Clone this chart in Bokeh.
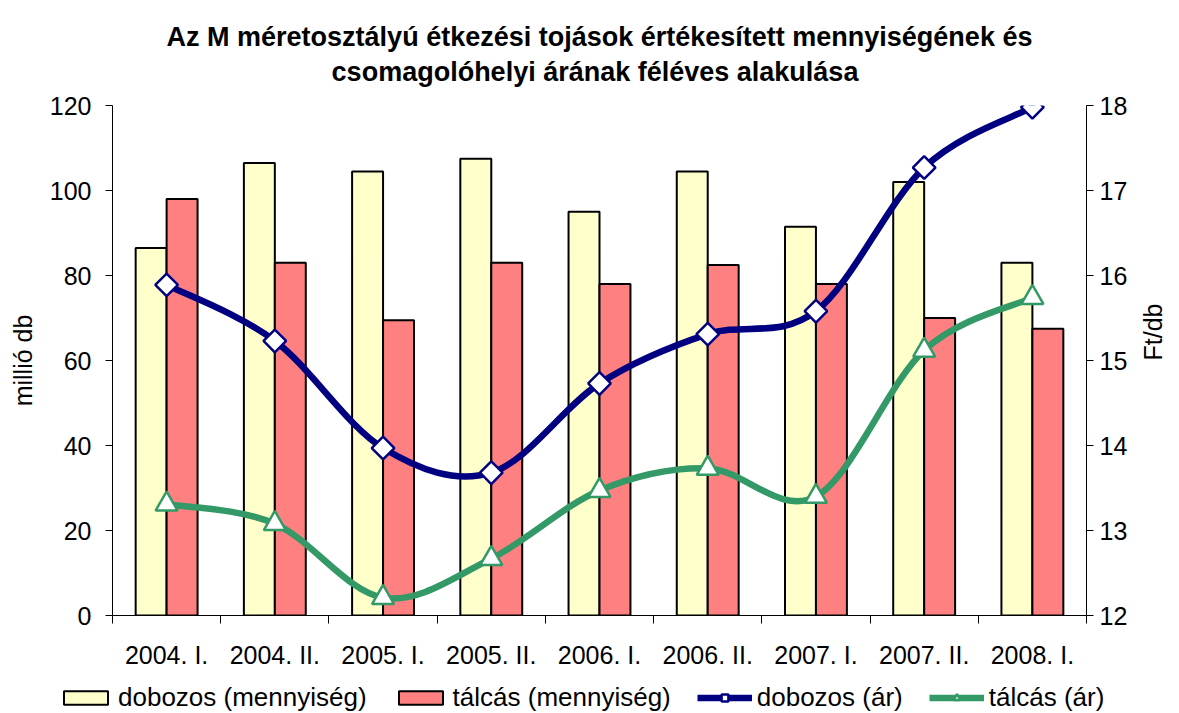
import numpy as np
from bokeh.plotting import figure
from bokeh.layouts import column
from bokeh.models import (Range1d, LinearAxis, FixedTicker, ColumnDataSource,
                          Legend, LegendItem)
from bokeh.embed import file_html
from bokeh.resources import INLINE

categories = ["2004. I.", "2004. II.", "2005. I.", "2005. II.", "2006. I.",
              "2006. II.", "2007. I.", "2007. II.", "2008. I."]
dobozos_menny = [86.5, 106.5, 104.5, 107.5, 95.0, 104.5, 91.5, 102.0, 83.0]
talcas_menny = [98.0, 83.0, 69.5, 83.0, 78.0, 82.5, 78.0, 70.0, 67.5]
dobozos_ar = [15.89, 15.23, 13.97, 13.68, 14.73, 15.31, 15.58, 17.27, 17.98]
talcas_ar = [13.31, 13.08, 12.21, 12.67, 13.47, 13.73, 13.40, 15.12, 15.74]
series_labels = ["dobozos (mennyiség)", "tálcás (mennyiség)", "dobozos (ár)", "tálcás (ár)"]

title1 = "Az M méretosztályú étkezési tojások értékesített mennyiségének és"
title2 = "csomagolóhelyi árának féléves alakulása"
FONT = "Liberation Sans"
FS = "25px"
TFS = "27px"
PAD = "\u00a0" * 22

YEL, RED, NAVY, GREEN = "#FFFFCC", "#FF8080", "#000080", "#339966"

xc = np.arange(len(categories)) + 0.5
bw = 0.286

p = figure(frame_width=974, frame_height=510, output_backend="svg",
           toolbar_location=None, x_range=Range1d(0, 9), y_range=Range1d(0, 120),
           min_border_left=112, min_border_right=85, min_border_top=104,
           min_border_bottom=0, title=title1 + "\n" + PAD + title2)
p.title.text_font = FONT
p.title.text_font_size = TFS
p.title.text_font_style = "bold"
p.title.text_color = "black"
p.title.align = "center"
p.title.text_line_height = 1.15
p.title.standoff = 38

p.xgrid.visible = False
p.ygrid.visible = False
p.outline_line_color = None
p.background_fill_color = "white"
p.border_fill_color = "white"

p.extra_y_ranges = {"price": Range1d(12, 18)}

p.vbar(x=xc - bw / 2, top=dobozos_menny, width=bw, bottom=0,
       fill_color=YEL, line_color="black", line_width=2)
p.vbar(x=xc + bw / 2, top=talcas_menny, width=bw, bottom=0,
       fill_color=RED, line_color="black", line_width=2)


def bez(xs, ys):
    xs = np.asarray(xs, float)
    ys = np.asarray(ys, float)
    n = len(xs)
    xe = np.concatenate([[xs[0]], xs, [xs[-1]]])
    ye = np.concatenate([[ys[0]], ys, [ys[-1]]])
    d = {"x0": [], "y0": [], "x1": [], "y1": [], "cx0": [], "cy0": [], "cx1": [], "cy1": []}
    for i in range(n - 1):
        j = i + 1
        d["x0"].append(xs[i]); d["y0"].append(ys[i])
        d["x1"].append(xs[i + 1]); d["y1"].append(ys[i + 1])
        d["cx0"].append(xs[i] + (xe[j + 1] - xe[j - 1]) / 6)
        d["cy0"].append(ys[i] + (ye[j + 1] - ye[j - 1]) / 6)
        d["cx1"].append(xs[i + 1] - (xe[j + 2] - xe[j]) / 6)
        d["cy1"].append(ys[i + 1] - (ye[j + 2] - ye[j]) / 6)
    return ColumnDataSource(d)


p.bezier(x0="x0", y0="y0", x1="x1", y1="y1", cx0="cx0", cy0="cy0",
         cx1="cx1", cy1="cy1", source=bez(xc, dobozos_ar), y_range_name="price",
         line_color=NAVY, line_width=6.5, line_cap="round")
p.bezier(x0="x0", y0="y0", x1="x1", y1="y1", cx0="cx0", cy0="cy0",
         cx1="cx1", cy1="cy1", source=bez(xc, talcas_ar), y_range_name="price",
         line_color=GREEN, line_width=6.5, line_cap="round")
p.scatter(xc, dobozos_ar, y_range_name="price", marker="square", angle=np.pi / 4,
          size=16, fill_color="white", line_color=NAVY, line_width=2.5)
p.scatter(xc, talcas_ar, y_range_name="price", marker="triangle",
          size=22, fill_color="white", line_color=GREEN, line_width=2.5)

xa = p.xaxis[0]
xa.ticker = FixedTicker(ticks=list(xc), minor_ticks=list(range(10)))
xa.major_label_overrides = {float(v): c for v, c in zip(xc, categories)}
xa.major_tick_out = 0
xa.major_tick_in = 0
xa.minor_tick_out = 8
xa.minor_tick_in = 0
xa.minor_tick_line_color = "black"
xa.axis_line_color = "black"
xa.major_label_standoff = 17
xa.major_label_text_font = FONT
xa.major_label_text_font_size = FS
xa.major_label_text_color = "black"

ya = p.yaxis[0]
ya.ticker = FixedTicker(ticks=[0, 20, 40, 60, 80, 100, 120])
ya.major_tick_out = 7
ya.major_tick_in = 0
ya.minor_tick_out = 0
ya.minor_tick_in = 0
ya.major_label_standoff = 14
ya.major_label_text_font = FONT
ya.major_label_text_font_size = FS
ya.major_label_text_color = "black"
ya.axis_line_color = "black"
ya.major_tick_line_color = "black"
ya.axis_label = "millió db"
ya.axis_label_text_font = FONT
ya.axis_label_text_font_size = FS
ya.axis_label_text_font_style = "normal"
ya.axis_label_text_color = "black"
ya.axis_label_standoff = 10

ra = LinearAxis(y_range_name="price", ticker=FixedTicker(ticks=[12, 13, 14, 15, 16, 17, 18]))
ra.major_tick_out = 7
ra.major_tick_in = 0
ra.minor_tick_out = 0
ra.minor_tick_in = 0
ra.major_label_standoff = 6
ra.major_label_text_font = FONT
ra.major_label_text_font_size = FS
ra.major_label_text_color = "black"
ra.axis_line_color = "black"
ra.major_tick_line_color = "black"
ra.axis_label = "Ft/db"
ra.axis_label_text_font = FONT
ra.axis_label_text_font_size = FS
ra.axis_label_text_font_style = "normal"
ra.axis_label_text_color = "black"
ra.axis_label_orientation = np.pi / 2
ra.axis_label_standoff = 23
p.add_layout(ra, "right")

# legend strip: its own figure, legend drawn inside that frame;
# the series renderers there are hidden and only feed the legend swatches
lf = figure(frame_width=1176, frame_height=43, output_backend="svg",
            toolbar_location=None, x_range=Range1d(0, 9), y_range=Range1d(0, 120),
            x_axis_location=None, y_axis_location=None,
            min_border_left=0, min_border_right=0, min_border_top=0, min_border_bottom=0)
lf.xgrid.visible = False
lf.ygrid.visible = False
lf.outline_line_color = None
lf.border_fill_color = "white"
lf.extra_y_ranges = {"price": Range1d(12, 18)}
g_d = lf.vbar(x=xc - bw / 2, top=dobozos_menny, width=bw, fill_color=YEL,
              line_color="black", line_width=2, visible=False)
g_t = lf.vbar(x=xc + bw / 2, top=talcas_menny, width=bw, fill_color=RED,
              line_color="black", line_width=2, visible=False)
g_ld = lf.line(xc, dobozos_ar, y_range_name="price", line_color=NAVY,
               line_width=6.5, visible=False)
g_md = lf.scatter(xc, dobozos_ar, y_range_name="price", marker="square",
                  angle=np.pi / 4, size=16, fill_color="white", line_color=NAVY,
                  line_width=2.5, visible=False)
g_lt = lf.line(xc, talcas_ar, y_range_name="price", line_color=GREEN,
               line_width=6.5, visible=False)
g_mt = lf.scatter(xc, talcas_ar, y_range_name="price", marker="triangle", size=22,
                  fill_color="white", line_color=GREEN, line_width=2.5, visible=False)

legend = Legend(items=[
    LegendItem(label=series_labels[0], renderers=[g_d]),
    LegendItem(label=series_labels[1], renderers=[g_t]),
    LegendItem(label=series_labels[2], renderers=[g_ld, g_md]),
    LegendItem(label=series_labels[3], renderers=[g_lt, g_mt]),
], orientation="horizontal", location=(58, 1), glyph_width=55, glyph_height=17,
    label_text_font=FONT, label_text_font_size="26px", label_text_color="black",
    label_standoff=5, spacing=26,
    border_line_color=None, background_fill_alpha=0, margin=0, padding=0,
    inactive_fill_alpha=0)
lf.add_layout(legend)

layout = column(p, lf, spacing=0)
open("out.html", "w").write(file_html(layout, INLINE))
